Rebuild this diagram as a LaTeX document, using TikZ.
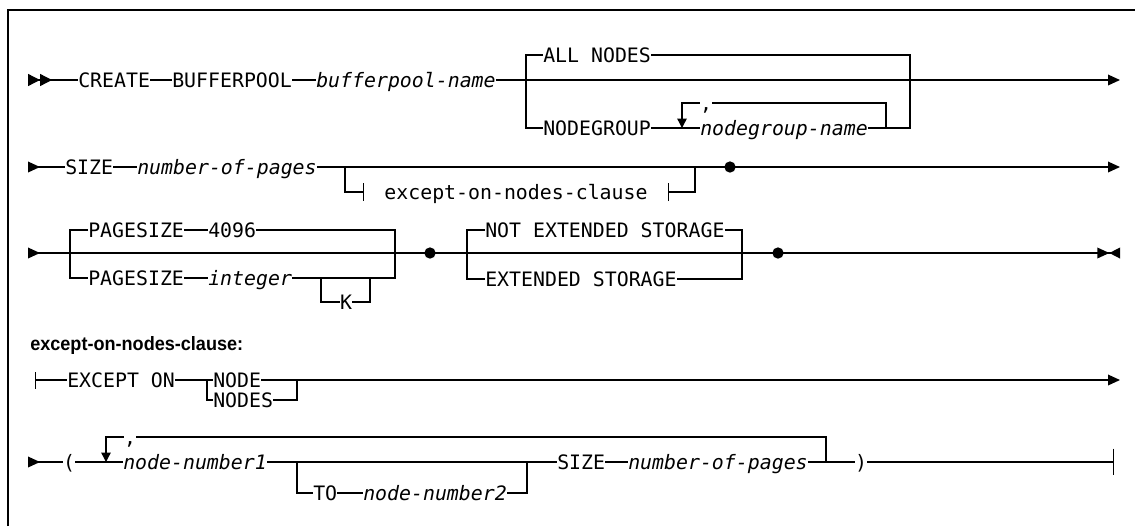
\documentclass[tikz,border=0pt]{standalone}
\usepackage{fontspec}
\usetikzlibrary{arrows.meta}
\newfontfamily\railfont{DejaVu Sans Mono}
\newfontfamily\headfont[FakeStretch=0.935]{Liberation Sans}
\newcommand{\railsize}{\fontsize{14.9}{17}\selectfont}
\tikzset{
  rail/.style={line width=1pt, black},
  frameline/.style={line width=1.1pt, black},
  kw/.style={font=\railfont\railsize, inner sep=0pt, text height=10.8pt,
    text depth=0pt, anchor=west},
  var/.style={kw, font=\railfont\railsize\itshape},
  glyph/.style={font=\railfont\railsize, inner sep=0pt, text height=10.8pt,
    text depth=0pt},
  railDot/.style={circle, fill=black, inner sep=0pt, minimum size=8.5pt},
  clausebox/.style={font=\railfont\railsize, inner ysep=0pt, inner xsep=15pt,
    text height=10.8pt, text depth=0pt},
  head/.style={font=\headfont\bfseries\fontsize{14.5}{17}\selectfont,
    inner sep=0pt, anchor=west},
  startTip/.style={{Triangle[reversed,length=9pt,width=8pt]}-},
  endTip/.style={-{Triangle[length=9pt,width=8pt]}},
  loopTip/.style={-{Triangle[length=7pt,width=7pt]}}
}

\begin{document}
\begin{tikzpicture}[x=0.75pt,y=-0.75pt]
  \useasboundingbox (0,0) rectangle (1135,526);
  \draw[frameline] (8,526) -- (8,10) -- (1135,10);

  % row 1
  \coordinate (r1s) at (28,80);
  \coordinate (r1e) at (1120,80);
  \coordinate (b1l) at (526,80);
  \coordinate (b1r) at (910,80);
  \coordinate (lp1l) at (682,128);
  \coordinate (lp1r) at (886,128);
  \node[kw] (create) at (78,80) {CREATE};
  \node[kw] (bufpool) at (172,80) {BUFFERPOOL};
  \node[var] (bpname) at (316,80) {bufferpool-name};
  \node[kw] (allnodes) at (543,55) {ALL NODES};
  \node[kw] (nodegrp) at (543,128) {NODEGROUP};
  \node[var] (ngname) at (700,128) {nodegroup-name};
  \node[glyph] (cm1) at (706,103) {,};
  \draw[rail,{Triangle[reversed,length=9pt,width=9pt,sep=0pt]Triangle[reversed,length=9pt,width=9pt]}-]
    (r1s) -- (create);
  \draw[rail] (create) -- (bufpool);
  \draw[rail] (bufpool) -- (bpname);
  \draw[rail,endTip] (bpname) -- (r1e);
  \draw[rail] (allnodes.west) -| (b1l) |- (nodegrp.west);
  \draw[rail] (allnodes.east) -| (b1r) |- (ngname.east);
  \draw[rail] (nodegrp) -- (ngname);
  \draw[rail] (lp1r) |- (cm1.east);
  \draw[rail,loopTip] (cm1.west) -| (lp1l);

  % row 2
  \coordinate (r2s) at (28,167);
  \coordinate (r2e) at (1120,167);
  \coordinate (b2l) at (345,167);
  \coordinate (b2r) at (695,167);
  \node[kw] (size2) at (65,167) {SIZE};
  \node[var] (pages2) at (137,167) {number-of-pages};
  \node[clausebox] (clause) at (516,192) {except-on-nodes-clause};
  \draw[rail,startTip] (r2s) -- (size2);
  \draw[rail] (size2) -- (pages2);
  \draw[rail,endTip] (pages2) -- (r2e);
  \draw[rail,-{Bar[width=13.5pt]}] (b2l) |- (clause.west);
  \draw[rail,{Bar[width=13.5pt]}-] (clause.east) -| (b2r);
  \node[railDot] (dot2) at (730,167) {};

  % row 3
  \coordinate (r3s) at (28,253);
  \coordinate (r3e) at (1120,253);
  \coordinate (b3l) at (70,253);
  \coordinate (b3r) at (395,253);
  \coordinate (k3l) at (321,278);
  \coordinate (k3r) at (370,278);
  \coordinate (b4l) at (467,253);
  \coordinate (b4r) at (742,253);
  \node[kw] (psize) at (88,230) {PAGESIZE};
  \node[kw] (v4096) at (208,230) {4096};
  \node[kw] (psize2) at (88,278) {PAGESIZE};
  \node[var] (integer) at (208,278) {integer};
  \node[glyph] (kk) at (346,302) {K};
  \node[kw] (notext) at (485,230) {NOT EXTENDED STORAGE};
  \node[kw] (ext) at (485,279) {EXTENDED STORAGE};
  \draw[rail,{Triangle[reversed,length=9pt,width=8pt]}-{Triangle[length=9pt,width=8pt,sep=0pt]Triangle[reversed,length=8pt,width=8pt]}]
    (r3s) -- (r3e);
  \draw[rail] (psize.west) -| (b3l) |- (psize2.west);
  \draw[rail] (psize) -- (v4096);
  \draw[rail] (v4096.east) -| (b3r) |- (integer.east);
  \draw[rail] (psize2) -- (integer);
  \draw[rail] (k3l) |- (kk.west);
  \draw[rail] (kk.east) -| (k3r);
  \draw[rail] (notext.west) -| (b4l) |- (ext.west);
  \draw[rail] (notext.east) -| (b4r) |- (ext.east);
  \node[railDot] (dot3a) at (430,253) {};
  \node[railDot] (dot3b) at (778,253) {};

  % except-on-nodes-clause
  \node[head] (hdr) at (30,345) {except-on-nodes-clause:};
  \coordinate (r4s) at (35,380);
  \coordinate (r4e) at (1120,380);
  \coordinate (b5l) at (207,380);
  \coordinate (b5r) at (297,380);
  \node[kw] (except) at (67,380) {EXCEPT ON};
  \node[kw] (node1) at (213,380) {NODE};
  \node[kw] (nodes1) at (213,400) {NODES};
  \draw[rail,{Bar[width=12.75pt]}-] (r4s) -- (except);
  \draw[rail] (except) -- (node1);
  \draw[rail,endTip] (node1) -- (r4e);
  \draw[rail] (b5l) |- (nodes1.west);
  \draw[rail] (nodes1.east) -| (b5r);

  % row 5
  \coordinate (r5s) at (28,462);
  \coordinate (r5e) at (1114,462);
  \coordinate (lp5l) at (106,462);
  \coordinate (lp5r) at (826,462);
  \coordinate (b6l) at (297,462);
  \coordinate (b6r) at (527,462);
  \node[glyph] (lpar) at (69,462) {(};
  \node[glyph] (cm5) at (130,437) {,};
  \node[var] (nn1) at (123,462) {node-number1};
  \node[kw] (to) at (313,493) {TO};
  \node[var] (nn2) at (363,493) {node-number2};
  \node[kw] (size5) at (557,462) {SIZE};
  \node[var] (pages5) at (628,462) {number-of-pages};
  \node[glyph] (rpar) at (861,462) {)};
  \draw[rail,startTip] (r5s) -- (lpar);
  \draw[rail] (lpar) -- (nn1);
  \draw[rail] (nn1) -- (size5);
  \draw[rail] (size5) -- (pages5);
  \draw[rail] (pages5) -- (rpar);
  \draw[rail,-{Bar[width=20pt]}] (rpar) -- (r5e);
  \draw[rail] (b6l) |- (to.west);
  \draw[rail] (to) -- (nn2);
  \draw[rail] (nn2.east) -| (b6r);
  \draw[rail] (lp5r) |- (cm5.east);
  \draw[rail,loopTip] (cm5.west) -| (lp5l);
\end{tikzpicture}
\end{document}
